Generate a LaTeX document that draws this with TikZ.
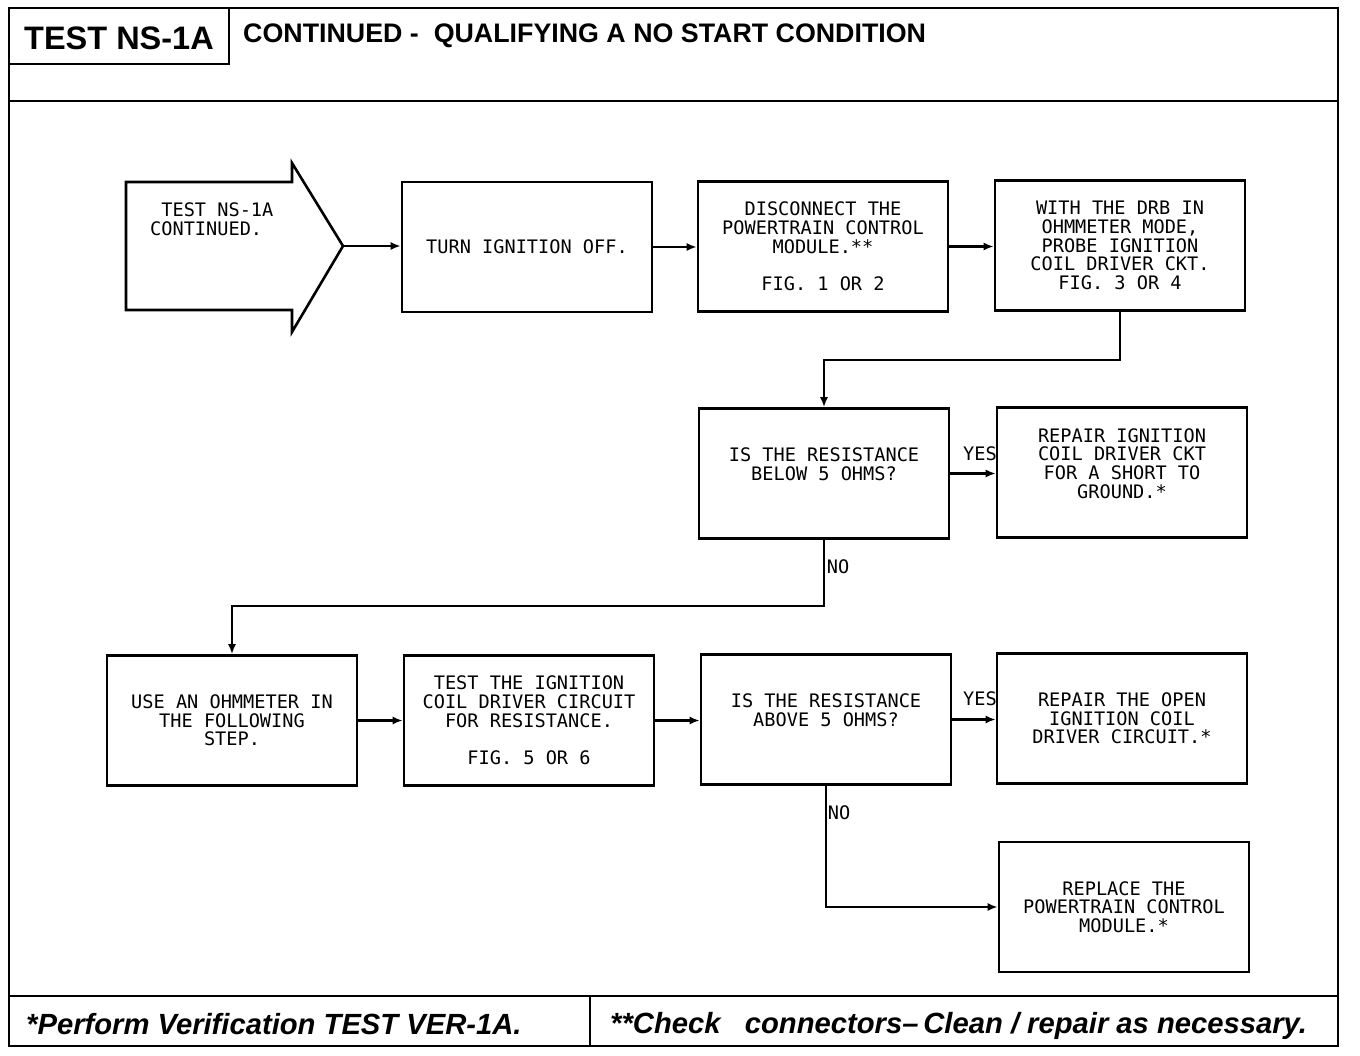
\documentclass[tikz,border=0pt]{standalone}
\usepackage{fontspec}
\setmainfont{Liberation Sans}
\newfontfamily\plotfont{DejaVu Sans Mono}
\usetikzlibrary{arrows.meta}
\begin{document}
\begin{tikzpicture}[x=1pt,y=-1pt,
  frame/.style={line width=2.6pt},
  box/.style={draw, line width=2.6pt, minimum width=250pt, minimum height=130pt,
    align=center, inner sep=0pt, font=\plotfont\fontsize{18.6}{18.7}\selectfont},
  conn/.style={line width=2.2pt, -{Latex[length=10pt,width=8pt]}},
  lbl/.style={inner sep=0pt, font=\plotfont\fontsize{18.6}{18.7}\selectfont},
  bold/.style={inner sep=0pt, anchor=base west}]
\useasboundingbox (0,0) rectangle (1360,1056);
\fill[white] (0,0) rectangle (1360,1056);

% frame
\draw[frame] (9,8) rectangle (1338,1046);
\draw[frame] (9,101) -- (1338,101);
\draw[frame] (9,996) -- (1338,996);
\draw[frame] (229,8) -- (229,64) -- (9,64);
\draw[frame] (590,996) -- (590,1046);

\node[bold, font=\bfseries\fontsize{32.5}{32.5}\selectfont] (title) at (24,50) {TEST NS-1A};
\node[bold, font=\bfseries\fontsize{26.8}{26.8}\selectfont] (head) at (243,43) {CONTINUED -\ \ QUALIFYING A NO START CONDITION};
\node[bold, font=\bfseries\itshape\fontsize{29.2}{29.2}\selectfont] (foot1) at (26,1034) {*Perform Verification TEST VER-1A.};
\node[bold, font=\bfseries\itshape\fontsize{29.2}{29.2}\selectfont] (foot2) at (610,1033) {**Check\ \ \ connectors--\,Clean\ /\ repair as necessary.};

% start arrow
\draw[frame, line join=miter] (126,182) -- (292,182) -- (292,163) -- (343,246) -- (292,332) -- (292,310) -- (126,310) -- cycle;
\coordinate (tip) at (343,246);
\node[lbl, align=left, anchor=west] (start) at (150,219) {\ TEST NS-1A\\CONTINUED.};

% boxes
\node[box] (b2) at (527,247) {TURN IGNITION OFF.};
\node[box] (b3) at (823,246.5) {DISCONNECT THE\\POWERTRAIN CONTROL\\MODULE.**\\ ~\\FIG. 1 OR 2};
\node[box] (b4) at (1120,245.5) {WITH THE DRB IN\\OHMMETER MODE,\\PROBE IGNITION\\COIL DRIVER CKT.\\FIG. 3 OR 4};
\node[box] (b5) at (824,473.5) {IS THE RESISTANCE\\BELOW 5 OHMS?\\ ~};
\node[box] (b6) at (1122,472.5) {REPAIR IGNITION\\COIL DRIVER CKT\\FOR A SHORT TO\\GROUND.*\\ ~};
\node[box] (b7) at (232,720.5) {USE AN OHMMETER IN\\THE FOLLOWING\\STEP.};
\node[box] (b8) at (529,720.5) {TEST THE IGNITION\\COIL DRIVER CIRCUIT\\FOR RESISTANCE.\\ ~\\FIG. 5 OR 6};
\node[box] (b9) at (826,719.5) {IS THE RESISTANCE\\ABOVE 5 OHMS?\\ ~};
\node[box] (b10) at (1122,718.5) {REPAIR THE OPEN\\IGNITION COIL\\DRIVER CIRCUIT.*};
\node[box] (b11) at (1124,907) {REPLACE THE\\POWERTRAIN CONTROL\\MODULE.*};

% connectors
\draw[conn] (tip) -- (tip -| b2.west);
\draw[conn] (b2.east) -- (b2.east -| b3.west);
\draw[conn] (b3.east) -- (b3.east -| b4.west);
\draw[conn] (b4.south) -- ++(0,48) -| (b5.north);
\draw[conn] (b5.east) -- (b5.east -| b6.west);
\draw[conn] (b5.south) -- ++(0,66) -| (b7.north);
\draw[conn] (b7.east) -- (b7.east -| b8.west);
\draw[conn] (b8.east) -- (b8.east -| b9.west);
\draw[conn] (b9.east) -- (b9.east -| b10.west);
\draw[conn] (b9.south) |- (b11.west);

\node[lbl] (yes1) at (980,454) {YES};
\node[lbl] (no1) at (838,567) {NO};
\node[lbl] (yes2) at (980,699) {YES};
\node[lbl] (no2) at (839,813) {NO};
\end{tikzpicture}
\end{document}
